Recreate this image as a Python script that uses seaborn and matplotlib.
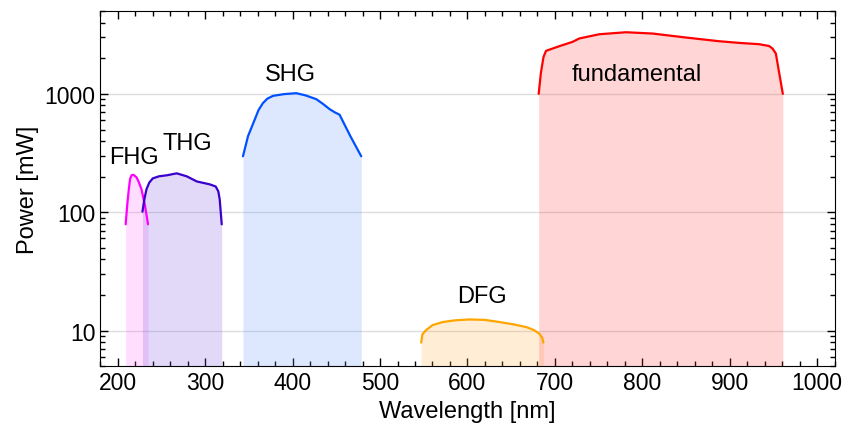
import numpy as np
import pandas as pd
import matplotlib
matplotlib.use("Agg")
import matplotlib.pyplot as plt
from matplotlib.ticker import MultipleLocator, LogLocator, NullFormatter
import seaborn as sns

# data (wavelength nm, power mW)
fhg_wl = [209, 211, 212.6, 214, 215.7, 218, 221.4, 224, 227.1, 231, 234.6]
fhg_pw = [79, 120, 156, 190, 205, 207, 197, 180, 156, 115, 79]

thg_wl = [228.2, 230.5, 232.8, 236, 240, 247, 256, 267.4, 278.9, 290.3, 305.1, 312, 315, 316.6, 318.9]
thg_pw = [101, 130, 156, 178, 193, 201, 205, 213, 201, 182, 172, 165, 150, 128, 79]

shg_wl = [343.2, 349, 356.6, 361, 366, 371, 377.5, 390, 404.2, 415, 427.1, 435, 442.3, 448, 453.7, 466, 478.5]
shg_pw = [297, 440, 605, 730, 835, 910, 962, 995, 1014, 970, 902, 820, 743, 700, 667, 440, 297]

dfg_wl = [547.1, 548.5, 552.8, 560, 571.8, 586, 602.3, 620, 636.6, 652, 667.1, 676, 682.3, 685.5, 686.9]
dfg_pw = [7.9, 9.3, 10.1, 11.1, 11.8, 12.2, 12.4, 12.3, 11.8, 11.3, 10.7, 10.1, 9.4, 8.7, 7.9]

fund_wl = [681.5, 684, 687, 689.9, 705.1, 720.3, 728, 750.9, 781.4, 811.8, 849.9, 888, 910.9, 933.7, 945, 948.9, 952.8, 956, 960.8]
fund_pw = [1000, 1500, 2050, 2311, 2530, 2753, 2940, 3192, 3318, 3236, 2994, 2786, 2697, 2630, 2540, 2421, 2197, 1600, 1000]

series = [
    ("FHG", fhg_wl, fhg_pw, "#ff00ff", "#ff66ff"),
    ("THG", thg_wl, thg_pw, "#3a00cc", "#7755dd"),
    ("SHG", shg_wl, shg_pw, "#0050ff", "#6699ff"),
    ("DFG", dfg_wl, dfg_pw, "#ffa500", "#ffb040"),
    ("fundamental", fund_wl, fund_pw, "#ff0000", "#ff4444"),
]

labels = ["FHG", "THG", "SHG", "DFG", "fundamental"]
label_x = [218, 279, 398, 617, 794]
label_y = [295, 387, 1470, 19.7, 1470]

sns.set_style("ticks")
plt.rcParams['font.family'] = ['Liberation Sans', 'DejaVu Sans']
for k in ["text.color", "axes.labelcolor", "xtick.color", "ytick.color", "axes.edgecolor"]:
    plt.rcParams[k] = "black"

fig = plt.figure(figsize=(8.43, 4.35), dpi=100)
ax = fig.add_axes([0.119, 0.156, 0.871, 0.816])

ymin, ymax = 5, 5000
for name, wl, pw, lc, fc in series:
    df = pd.DataFrame({"wl": wl, "pw": pw})
    ax.fill_between(df["wl"], ymin, df["pw"], color=fc, alpha=0.22, lw=0)
    sns.lineplot(data=df, x="wl", y="pw", color=lc, lw=1.6, sort=False, ax=ax)

for t, x, y in zip(labels, label_x, label_y):
    ax.text(x, y, t, ha="center", va="center", fontsize=17)

ax.set_yscale("log")
ax.set_xlim(180, 1020)
ax.set_ylim(ymin, ymax)
ax.xaxis.set_major_locator(MultipleLocator(100))
ax.xaxis.set_minor_locator(MultipleLocator(20))
ax.yaxis.set_minor_locator(LogLocator(base=10, subs=np.arange(2, 10), numticks=20))
ax.yaxis.set_minor_formatter(NullFormatter())
ax.set_yticks([10, 100, 1000])
ax.set_yticklabels(["10", "100", "1000"])
ax.tick_params(which="both", direction="in", top=True, right=True, labelsize=16.5, width=1)
ax.tick_params(which="major", length=6)
ax.tick_params(which="minor", length=3.5)
ax.grid(axis="y", which="major", color="#dddddd", lw=1)
ax.set_axisbelow(True)
ax.set_xlabel("Wavelength [nm]", fontsize=17)
ax.set_ylabel("Power [mW]", fontsize=17)

fig.savefig("out.png", dpi=100)
